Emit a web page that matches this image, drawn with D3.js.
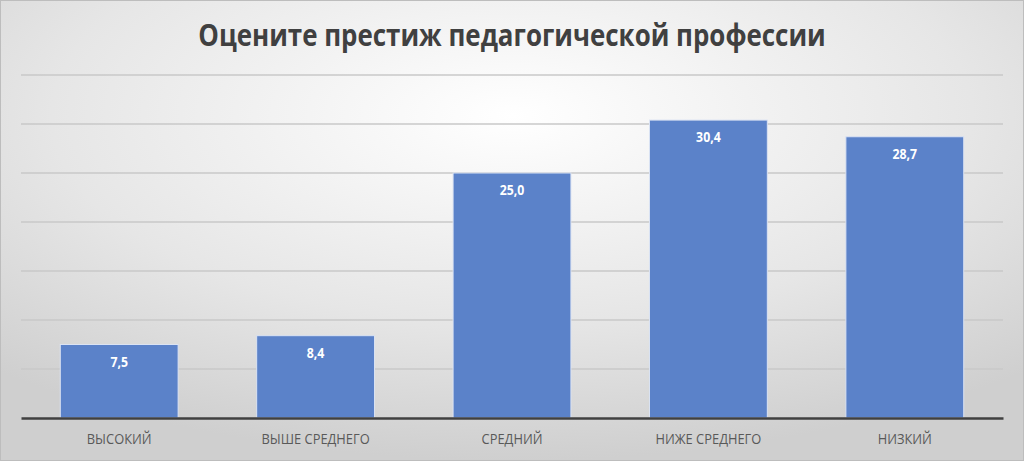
<!DOCTYPE html>
<html><head><meta charset="utf-8">
<script src="https://cdn.jsdelivr.net/npm/d3@7"></script>
<style>body{margin:0;background:#fff;}svg{display:block;}</style>
</head><body>
<script>
const categories = ["ВЫСОКИЙ","ВЫШЕ СРЕДНЕГО","СРЕДНИЙ","НИЖЕ СРЕДНЕГО","НИЗКИЙ"];
const values = [7.5, 8.4, 25.0, 30.4, 28.7];
const yTicks = [0,5,10,15,20,25,30,35];
const title = "Оцените престиж педагогической профессии";

const W=1024,H=461;
const svg=d3.select("body").append("svg").attr("width",W).attr("height",H);
const defs=svg.append("defs");
const rg=defs.append("radialGradient").attr("id","bg").attr("cx","50%").attr("cy","25%").attr("r","75%");
rg.append("stop").attr("offset","0%").attr("stop-color","#ffffff");
rg.append("stop").attr("offset","60%").attr("stop-color","#e6e6e6");
rg.append("stop").attr("offset","100%").attr("stop-color","#cfcfcf");
svg.append("rect").attr("x",0.5).attr("y",0.5).attr("width",W-1).attr("height",H-1)
  .attr("fill","url(#bg)").attr("stroke","#bdbdbd");

const m={l:21,r:21,t:75,b:43};
const x=d3.scaleBand().domain(categories).range([m.l,W-m.r]).paddingInner(0.4).paddingOuter(0.2);
const y=d3.scaleLinear().domain([0,35]).range([H-m.b,m.t]);

const grid=svg.append("g");
grid.selectAll("line").data(yTicks.filter(d=>d>0)).join("line")
  .attr("x1",m.l).attr("x2",W-m.r).attr("y1",d=>y(d)).attr("y2",d=>y(d))
  .attr("stroke","#c8c8c8").attr("stroke-width",1.5);

svg.append("g").selectAll("rect").data(values).join("rect")
  .attr("x",(d,i)=>x(categories[i])).attr("width",x.bandwidth())
  .attr("y",d=>y(d)).attr("height",d=>y(0)-y(d))
  .attr("fill","#5b82c9").attr("stroke","#dbe3f3").attr("stroke-width",1);

svg.append("g").selectAll("text").data(values).join("text")
  .attr("transform",(d,i)=>`translate(${x(categories[i])+x.bandwidth()/2},${y(d)+22}) scale(0.85,1)`)
  .attr("text-anchor","middle").attr("fill","#ffffff")
  .attr("font-family","Open Sans, sans-serif").attr("font-weight","bold").attr("font-size",14.5)
  .text(d=>d.toFixed(1).replace(".",","));

const xa=svg.append("g").attr("transform",`translate(0,${y(0)})`).call(d3.axisBottom(x).tickSize(0).tickPadding(15));
xa.select(".domain").attr("stroke","#404040").attr("stroke-width",2.5);
xa.selectAll("text").attr("font-family","Open Sans, sans-serif").attr("font-size",15).attr("fill","#595959")
  .attr("transform","scale(0.86,1)");

svg.append("text").attr("transform",`translate(${W/2},46) scale(0.836,1)`).attr("text-anchor","middle")
  .attr("font-family","Open Sans, sans-serif").attr("font-weight","bold").attr("font-size",31)
  .attr("fill","#404040").text(title);
</script>
</body></html>
